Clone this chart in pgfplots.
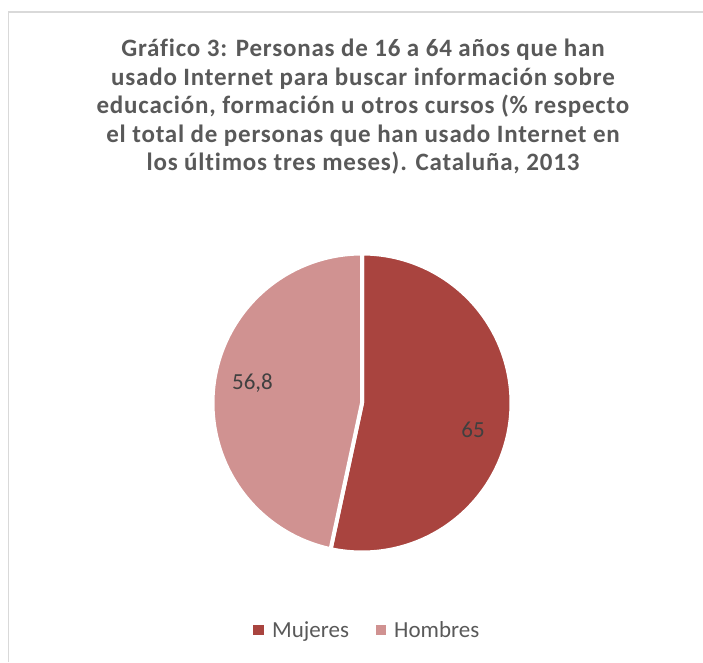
\documentclass[border=0pt]{standalone}
\usepackage{pgfplots}
\pgfplotsset{compat=1.18}
\usepackage{fontspec}
\setmainfont{Carlito}[Ligatures=CommonOff]
\definecolor{muj}{HTML}{A9443F}
\definecolor{hom}{HTML}{D09291}
\definecolor{txt}{HTML}{595959}
\definecolor{lbl}{HTML}{404040}
\definecolor{frame}{HTML}{D9D9D9}
% data
\def\vM{65}
\def\vH{56.8}
\pgfmathsetmacro{\fM}{\vM/(\vM+\vH)}
\pgfmathsetmacro{\aM}{90-360*\fM}
\pgfmathsetmacro{\aH}{\aM+360}
\def\cx{362}
\def\cy{259}
\def\R{149.5}
\tikzset{
  ttl/.style={text=txt, anchor=base, inner sep=0pt,
    font=\fontsize{25}{28}\selectfont\bfseries\addfontfeatures{LetterSpace=3.2}},
  reg/.style={inner sep=0pt, font=\fontsize{23}{28}\selectfont}
}
\begin{document}
\begin{tikzpicture}
\begin{axis}[scale only axis, width=703pt, height=662pt,
  xmin=0, xmax=703, ymin=0, ymax=662, hide axis, clip=false]
% frame
\addplot[frame, line width=1.2pt, forget plot] coordinates {(8.5,0) (8.5,650) (703,650)};
% slices
\addplot[fill=muj, draw=white, line width=4pt, domain=\aM:90, samples=120, variable=\t, forget plot]
  ({\cx+\R*cos(t)},{\cy+\R*sin(t)}) -- (axis cs:\cx,\cy) -- cycle;
\addplot[fill=hom, draw=white, line width=4pt, domain=90:\aH, samples=120, variable=\t, forget plot]
  ({\cx+\R*cos(t)},{\cy+\R*sin(t)}) -- (axis cs:\cx,\cy) -- cycle;
% data labels
\node[reg, text=lbl, anchor=base] at (axis cs:252.5,273) {56,8};
\node[reg, text=lbl, anchor=base] at (axis cs:473,225) {65};
% title
\node[ttl] at (axis cs:363,605) {Gráfico 3: Personas de 16 a 64 años que han};
\node[ttl] at (axis cs:363,576.5) {usado Internet para buscar información sobre};
\node[ttl] at (axis cs:363,548) {educación, formación u otros cursos (\% respecto};
\node[ttl] at (axis cs:363,519.5) {el total de personas que han usado Internet en};
\node[ttl] at (axis cs:363,491) {los últimos tres meses). Cataluña, 2013};
% legend
\addplot[only marks, mark=square*, mark size=4.75pt, color=muj, forget plot] coordinates {(258,32.5)};
\addplot[only marks, mark=square*, mark size=4.75pt, color=hom, forget plot] coordinates {(380.5,32.5)};
\node[reg, text=txt, anchor=base west] at (axis cs:272,25) {Mujeres};
\node[reg, text=txt, anchor=base west] at (axis cs:394,25) {Hombres};
\end{axis}
\pgfresetboundingbox
\path (0,0) rectangle (703pt,662pt);
\end{tikzpicture}
\end{document}
